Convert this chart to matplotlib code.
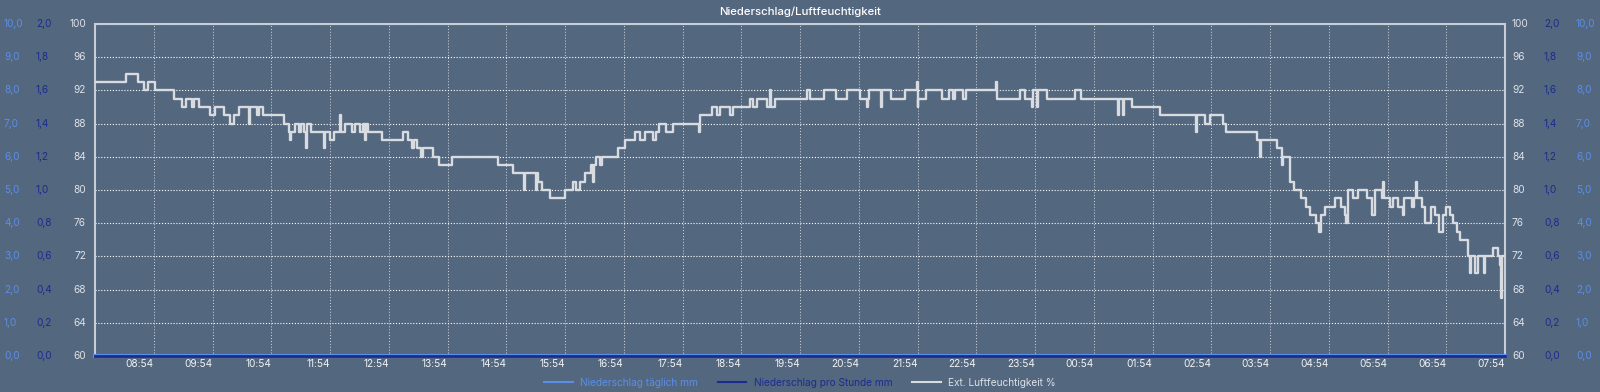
import matplotlib.pyplot as plt
from matplotlib import transforms
from matplotlib.lines import Line2D

plt.rcParams['font.family'] = ['Inter', 'DejaVu Sans']

# minutes since 07:54 and humidity in %, one entry per change of the value
minutes = [0, 32, 44, 50, 54, 61, 81, 89, 93, 99, 101, 106, 117, 123, 132, 138, 142, 147, 157, 158,
           165, 167, 172, 193, 198, 199, 200, 204, 208, 210, 213, 215, 216, 221, 234, 235, 240, 244,
           250, 251, 255, 262, 266, 271, 274, 276, 277, 279, 293,
           315, 320, 324, 326, 329, 333, 335, 345, 351, 365, 412, 427, 438, 439, 450, 451, 452, 456,
           465, 480, 488, 491, 495, 500, 507, 509, 510, 512, 516, 518, 534, 541, 551, 557, 562, 570,
           573, 576, 583, 590,
           617, 618, 630, 635, 638, 649, 652, 669, 672, 676, 686, 689, 690, 694, 727, 730, 744, 757,
           768, 781, 788, 789, 790, 803, 804, 813, 827, 839, 840, 841, 849, 865, 872, 876, 878, 886,
           890, 920, 921, 945, 950, 957, 958, 962, 963, 972, 1001, 1007, 1045, 1046, 1050, 1051, 1059,
           1088, 1124, 1125, 1134, 1139, 1152, 1155,
           1187, 1190, 1191, 1207, 1212, 1213, 1220, 1225, 1232, 1237, 1241, 1247, 1250, 1252, 1256,
           1266, 1272, 1277, 1278, 1280, 1285, 1290, 1299, 1304, 1307, 1314, 1315, 1316, 1323, 1326,
           1331, 1336, 1337, 1345, 1347, 1349, 1350, 1355, 1358, 1364, 1368, 1373, 1377, 1380, 1384,
           1387, 1391, 1394, 1402, 1404, 1405, 1409, 1412, 1419, 1420, 1428, 1433, 1435, 1436, 1437,
           1440]
humidity = [93, 94, 93, 92, 93, 92, 91, 90, 91, 90, 91, 90, 89, 90, 89, 88, 89, 90, 88, 90,
            89, 90, 89, 88, 87, 86, 87, 88, 87, 88, 87, 85, 88, 87, 85, 87, 86, 87,
            89, 87, 88, 87, 88, 87, 88, 86, 88, 87, 86,
            87, 86, 85, 86, 85, 84, 85, 84, 83, 84, 83, 82, 80, 82, 80, 82, 81, 80,
            79, 80, 81, 80, 81, 82, 83, 81, 83, 84, 83, 84, 85, 86, 87, 86, 87, 86,
            87, 88, 87, 88,
            87, 89, 90, 89, 90, 89, 90, 91, 90, 91, 90, 92, 90, 91, 92, 91, 92, 91,
            92, 91, 90, 91, 92, 90, 92, 91, 92, 93, 90, 91, 92, 91, 92, 91, 92, 91,
            92, 93, 91, 92, 91, 90, 92, 90, 92, 91, 92, 91, 89, 91, 89, 91, 90,
            89, 87, 89, 88, 89, 88, 87,
            86, 84, 86, 85, 83, 84, 81, 80, 79, 78, 77, 76, 75, 77, 78,
            79, 78, 77, 76, 80, 79, 80, 79, 77, 80, 79, 81, 79, 78, 79,
            78, 77, 79, 78, 79, 81, 79, 78, 76, 78, 77, 75, 77, 78, 77,
            76, 75, 74, 72, 70, 72, 70, 72, 70, 72, 73, 72, 71, 67, 72,
            72]

# both rain series stay at zero the whole day
rain_minutes = [0, 1440]
rain_daily = [0.0, 0.0]
rain_hourly = [0.0, 0.0]

xtick_minutes = [60, 120, 180, 240, 300, 360, 420, 480, 540, 600, 660, 720, 780, 840, 900, 960,
                 1020, 1080, 1140, 1200, 1260, 1320, 1380, 1440]
xtick_labels = ['08:54', '09:54', '10:54', '11:54', '12:54', '13:54', '14:54', '15:54', '16:54',
                '17:54', '18:54', '19:54', '20:54', '21:54', '22:54', '23:54', '00:54', '01:54',
                '02:54', '03:54', '04:54', '05:54', '06:54', '07:54']
hum_ticks = [60, 64, 68, 72, 76, 80, 84, 88, 92, 96, 100]
hourly_ticks = [0.0, 0.2, 0.4, 0.6, 0.8, 1.0, 1.2, 1.4, 1.6, 1.8, 2.0]
hourly_labels = ['0,0', '0,2', '0,4', '0,6', '0,8', '1,0', '1,2', '1,4', '1,6', '1,8', '2,0']
daily_ticks = [0, 1, 2, 3, 4, 5, 6, 7, 8, 9, 10]
daily_labels = ['0,0', '1,0', '2,0', '3,0', '4,0', '5,0', '6,0', '7,0', '8,0', '9,0', '10,0']

bg = '#53677f'
c_light = '#5b8ee8'
c_dark = '#1c2c8e'
c_gray = '#dde1e7'
c_line = '#d8dbe0'
fs = 7.3

W, H = 1600, 392
fig = plt.figure(figsize=(W / 100, H / 100), dpi=100, facecolor=bg)
ax = fig.add_axes([95 / W, 36 / H, 1410 / W, 332 / H])
ax.set_facecolor(bg)

ax.plot(minutes, humidity, drawstyle='steps-post', color=c_line, lw=1.7, zorder=3)
ax.set_xlim(0, 1440)
ax.set_ylim(60, 100)
ax.set_yticks(hum_ticks)
ax.set_xticks(xtick_minutes)
ax.set_xticklabels(xtick_labels, ha='right')
ax.tick_params(axis='x', length=0, pad=2, labelsize=fs, colors='#f0f2f5')
ax.tick_params(axis='y', length=0, labelleft=False)
ax.grid(axis='y', color='white', lw=0.8, linestyle=(0, (1, 1.6)))
ax.grid(axis='x', color='#d4dae2', lw=0.7, linestyle=(0, (1, 2)))
for side in ['top', 'left', 'right']:
    ax.spines[side].set_color('#c8ced8')
    ax.spines[side].set_linewidth(1.5)
ax.spines['bottom'].set_visible(False)

ax_d = ax.twinx()
ax_d.set_ylim(0, 10)
ax_d.axis('off')
ax_d.plot(rain_minutes, rain_daily, color=c_light, lw=3.0, clip_on=False)
ax_h = ax.twinx()
ax_h.set_ylim(0, 2)
ax_h.axis('off')
ax_h.plot(rain_minutes, rain_hourly, color=c_dark, lw=2.0, clip_on=False)

# tick label columns on both sides
def column(axis, ticks, labels, color, x_px, ha):
    tr = transforms.blended_transform_factory(fig.transFigure, axis.transData)
    for t, lab in zip(ticks, labels):
        fig.text(x_px / W, t, lab, transform=tr, ha=ha, va='center', color=color, fontsize=fs)

column(ax_d, daily_ticks, daily_labels, c_light, 4, 'left')
column(ax_h, hourly_ticks, hourly_labels, c_dark, 36, 'left')
column(ax, hum_ticks, [str(v) for v in hum_ticks], c_gray, 86, 'right')
column(ax, hum_ticks, [str(v) for v in hum_ticks], c_gray, 1512, 'left')
column(ax_h, hourly_ticks, hourly_labels, c_dark, 1544, 'left')
column(ax_d, daily_ticks, daily_labels, c_light, 1576, 'left')

fig.text(0.5, 1 - 12 / H, 'Niederschlag/Luftfeuchtigkeit', ha='center', va='center',
         color='white', fontsize=8.2, fontweight='medium')

handles = [Line2D([], [], color=c_light, lw=1.5),
           Line2D([], [], color=c_dark, lw=1.5),
           Line2D([], [], color=c_line, lw=1.5)]
names = ['Niederschlag täglich mm', 'Niederschlag pro Stunde mm', 'Ext. Luftfeuchtigkeit %']
leg = fig.legend(handles, names, loc='center', bbox_to_anchor=(0.5, 9.5 / H), ncol=3,
                 frameon=False, fontsize=fs, handlelength=2.8, handletextpad=0.7,
                 columnspacing=2.0, borderaxespad=0, borderpad=0)
for txt, col in zip(leg.get_texts(), [c_light, c_dark, c_gray]):
    txt.set_color(col)

fig.savefig('out.png', dpi=100, facecolor=bg)
